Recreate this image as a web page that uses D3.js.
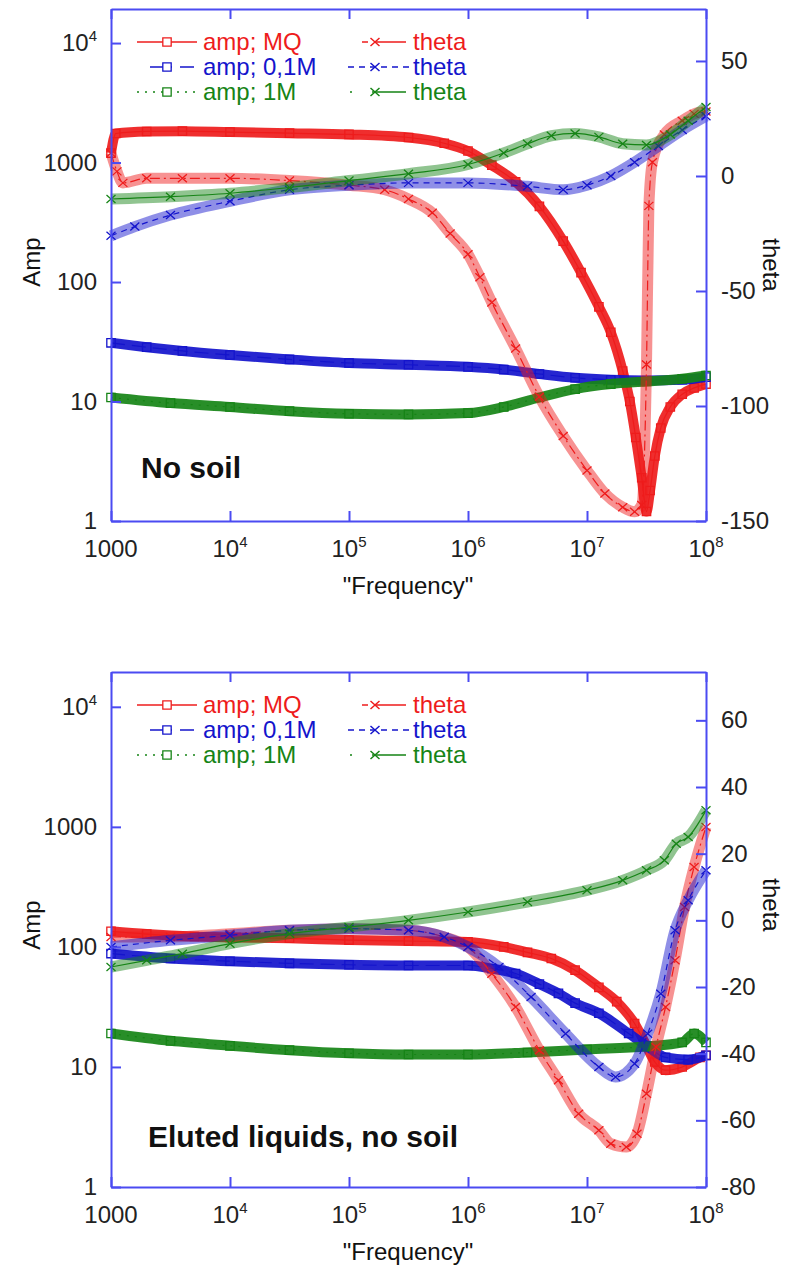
<!DOCTYPE html>
<html>
<head>
<meta charset="utf-8">
<script src="https://d3js.org/d3.v7.min.js"></script>
<style>
body { margin: 0; background: #fff; }
svg { display: block; font-family: "Liberation Sans", Arial, sans-serif; }
</style>
</head>
<body>
<script>
// ---- data: [log10(frequency), value] ----
var noSoilAmpMQ = [[3.0,1200],[3.04,1750],[3.3,1820],[3.6,1830],[4.0,1800],[4.5,1760],[5.0,1720],[5.5,1620],[5.8,1450],[6.0,1250],[6.2,950],[6.4,690],[6.6,430],[6.8,220],[6.95,120],[7.1,62],[7.2,38],[7.3,18],[7.36,10],[7.41,5],[7.46,2.3],[7.5,1.2],[7.53,1.8],[7.57,3.5],[7.62,6],[7.7,9],[7.8,11.5],[7.9,13],[8.0,14]];
var noSoilAmp01M = [[3.0,31],[3.3,28.5],[3.6,26.5],[4.0,24.5],[4.5,22.5],[5.0,21],[5.5,20.3],[6.0,19.5],[6.3,18.5],[6.6,17],[6.9,15.8],[7.2,15.2],[7.5,15],[7.8,15.2],[8.0,16]];
var noSoilAmp1M = [[3.0,10.8],[3.5,9.7],[4.0,9],[4.5,8.3],[5.0,7.9],[5.5,7.8],[6.0,8.0],[6.3,9.0],[6.6,10.8],[6.9,12.7],[7.2,14],[7.5,14.7],[7.8,15.5],[8.0,16.5]];
var noSoilThetaMQ = [[3.0,10],[3.05,2],[3.1,-3],[3.3,-1],[3.6,-1],[4.0,-1],[4.5,-2],[5.0,-4],[5.3,-6],[5.5,-10],[5.7,-16],[5.85,-25],[6.0,-34],[6.1,-44],[6.2,-55],[6.4,-75],[6.6,-96],[6.8,-113],[7.0,-128],[7.15,-138],[7.3,-144],[7.4,-146],[7.46,-143],[7.5,-82],[7.52,-13],[7.55,6],[7.65,18],[7.8,24],[7.9,27],[8.0,28]];
var noSoilTheta01M = [[3.0,-26],[3.2,-22],[3.5,-17],[4.0,-11],[4.5,-6],[5.0,-4],[5.5,-3],[6.0,-3],[6.5,-4.5],[6.8,-6],[7.0,-4],[7.2,0],[7.4,6],[7.6,13],[7.8,20],[8.0,26]];
var noSoilTheta1M = [[3.0,-10],[3.5,-9],[4.0,-7.5],[4.5,-5],[5.0,-2],[5.5,1],[6.0,5],[6.3,10],[6.5,14],[6.7,17.5],[6.9,18.5],[7.1,17],[7.3,14],[7.5,13.5],[7.7,18],[7.85,24],[8.0,30]];

var elutedAmpMQ = [[3.0,135],[3.3,128],[3.7,122],[4.0,120],[4.5,118],[5.0,114],[5.5,112],[6.0,110],[6.3,100],[6.5,90],[6.7,80],[6.9,64],[7.1,46],[7.25,35],[7.4,23],[7.5,15],[7.57,11],[7.66,9.4],[7.8,10],[7.95,12],[8.0,12.5]];
var elutedAmp01M = [[3.0,88],[3.5,80],[4.0,76],[4.5,73],[5.0,71],[5.5,70],[6.0,70],[6.2,66],[6.4,60],[6.6,49],[6.76,41],[6.9,34],[7.1,28],[7.35,19],[7.5,15],[7.66,12],[7.85,11.5],[8.0,12.5]];
var elutedAmp1M = [[3.0,19],[3.5,16.5],[4.0,15],[4.5,13.8],[5.0,13],[5.5,12.7],[6.0,12.7],[6.5,13.2],[7.0,14],[7.5,14.8],[7.8,16],[7.9,19],[8.0,16]];
var elutedThetaMQ = [[3.0,-5],[3.5,-5],[4.0,-4],[4.5,-3],[5.0,-2.5],[5.5,-3],[5.8,-5],[6.0,-8],[6.2,-16],[6.4,-26],[6.6,-39],[6.76,-48],[6.93,-58],[7.1,-63],[7.2,-67],[7.33,-68],[7.42,-64],[7.5,-52],[7.58,-38],[7.66,-26],[7.74,-12],[7.82,4],[7.9,16],[8.0,28]];
var elutedTheta01M = [[3.0,-8],[3.5,-6],[4.0,-4.5],[4.5,-3],[5.0,-2.5],[5.5,-3],[5.8,-5],[6.0,-8],[6.26,-14],[6.53,-23],[6.82,-34],[7.1,-44],[7.24,-47],[7.4,-43],[7.51,-34],[7.62,-22],[7.74,-3],[7.85,6],[8.0,15]];
var elutedTheta1M = [[3.0,-14],[3.3,-12],[3.6,-10],[4.0,-7],[4.5,-4],[5.0,-2],[5.5,0],[6.0,2.5],[6.5,5.5],[7.0,9],[7.3,12],[7.5,15],[7.65,18],[7.75,23],[7.85,25],[8.0,33]];

var freqTicks = [1e3, 1e4, 1e5, 1e6, 1e7, 1e8];
var ampTicks = [1, 10, 100, 1000, 1e4];
var thetaTicksTop = [-150, -100, -50, 0, 50];
var thetaTicksBottom = [-80, -60, -40, -20, 0, 20, 40, 60];
var ampLabels = ["amp; MQ", "amp; 0,1M", "amp; 1M"];
var thetaLabels = ["theta", "theta", "theta"];

var colors = ["#ee1c1c", "#1414cc", "#168416"];
var frameColor = "#4b4bf2";
var ampDash = [null, "14,7", "2,6"];
var thetaDash = ["10,4,2,4", "6,5", null];
// legend samples (gnuplot style key entries)
var ampKey = [[137, 197, null], [150, 194, "22,8,14"], [137, 197, "2,6"]];
var thetaKey = [[362, 406, "6,6,40"], [348, 410, "6,5"], [350, 406, "2,20,40"]];

var svg = d3.select("body").append("svg").attr("width", 799).attr("height", 1267);
var x = d3.scaleLog().domain([1e3, 1e8]).range([111, 706]);
var crossPath = "M-4.5,-4L4.5,4M-4.5,4L4.5,-4";

function powLabel(t, v) {
  var e = Math.round(Math.log10(v));
  if (e <= 3) { t.text(String(v)); return; }
  t.text("10");
  t.append("tspan").attr("font-size", 15).attr("dy", -10).text(e);
}

function panel(p) {
  var yA = d3.scaleLog().domain([1, p.ampMax]).range([p.bottom, p.top]);
  var yT = d3.scaleLinear().domain(p.thetaDomain).range([p.bottom, p.top]);
  var g = svg.append("g");
  var fx = function(d) { return x(Math.pow(10, d[0])); };

  var series = [];
  p.amp.forEach(function(s, i) { series.push({data: s, y: yA, c: colors[i], dash: ampDash[i], kind: "amp"}); });
  p.theta.forEach(function(s, i) { series.push({data: s, y: yT, c: colors[i], dash: thetaDash[i], kind: "theta"}); });

  series.forEach(function(s) {
    var line = d3.line().x(fx).y(function(d) { return s.y(d[1]); }).curve(d3.curveMonotoneX);
    // dense marker band
    g.append("path").attr("d", line(s.data)).attr("fill", "none")
      .attr("stroke", s.c)
      .attr("stroke-width", s.kind === "amp" ? 10 : 11)
      .attr("stroke-opacity", s.kind === "amp" ? 0.92 : 0.48);
    g.append("path").attr("d", line(s.data)).attr("fill", "none")
      .attr("stroke", s.c).attr("stroke-width", 1.2)
      .attr("stroke-dasharray", s.dash);
    var m = g.selectAll(null).data(s.data).enter().append("path")
      .attr("transform", function(d) { return "translate(" + fx(d) + "," + s.y(d[1]) + ")"; })
      .attr("fill", "none").attr("stroke", s.c).attr("stroke-width", 1.3);
    if (s.kind === "amp") m.attr("d", d3.symbol().type(d3.symbolSquare).size(70));
    else m.attr("d", crossPath);
  });

  // frame and ticks
  var ax = svg.append("g").attr("class", "axes");
  ax.append("g").attr("transform", "translate(0," + p.bottom + ")")
    .call(d3.axisBottom(x).tickValues(freqTicks).tickSize(-10).tickSizeOuter(0).tickFormat(""));
  ax.append("g").attr("transform", "translate(0," + p.top + ")")
    .call(d3.axisTop(x).tickValues(freqTicks).tickSize(-10).tickSizeOuter(0).tickFormat(""));
  ax.append("g").attr("transform", "translate(111,0)")
    .call(d3.axisLeft(yA).tickValues(ampTicks).tickSize(-10).tickSizeOuter(0).tickFormat(""));
  ax.append("g").attr("transform", "translate(706,0)")
    .call(d3.axisRight(yT).tickValues(p.thetaTicks).tickSize(-10).tickSizeOuter(0).tickFormat(""));
  ax.selectAll("path, line").attr("stroke", frameColor).attr("stroke-width", 2);

  // tick labels
  svg.selectAll(null).data(freqTicks).enter().append("text")
    .attr("x", function(d) { return x(d); }).attr("y", p.bottom + 36)
    .attr("text-anchor", "middle").attr("font-size", 24).attr("fill", "#222")
    .each(function(d) { powLabel(d3.select(this), d); });
  svg.selectAll(null).data(ampTicks).enter().append("text")
    .attr("x", 97).attr("y", function(d) { return yA(d) + 8; })
    .attr("text-anchor", "end").attr("font-size", 24).attr("fill", "#222")
    .each(function(d) { powLabel(d3.select(this), d); });
  svg.selectAll(null).data(p.thetaTicks).enter().append("text")
    .attr("x", 721).attr("y", function(d) { return yT(d) + 8; })
    .attr("font-size", 24).attr("fill", "#222")
    .text(function(d) { return d; });

  // axis titles
  svg.append("text").attr("transform", "translate(40," + p.ampTitleY + ") rotate(-90)")
    .attr("text-anchor", "middle").attr("font-size", 24).attr("fill", "#111").text("Amp");
  svg.append("text").attr("transform", "translate(763," + p.thetaTitleY + ") rotate(90)")
    .attr("text-anchor", "middle").attr("font-size", 24).attr("fill", "#111").text("theta");
  svg.append("text").attr("x", 408).attr("y", p.bottom + 73)
    .attr("text-anchor", "middle").attr("font-size", 24).attr("fill", "#111").text("\"Frequency\"");
  svg.append("text").attr("x", p.noteX).attr("y", p.noteY)
    .attr("font-size", 30).attr("font-weight", "bold").attr("fill", "#111").text(p.note);

  // legend
  var lg = svg.append("g");
  [0, 1, 2].forEach(function(i) {
    var ly = p.top + 33 + i * 25;
    lg.append("line").attr("x1", ampKey[i][0]).attr("x2", ampKey[i][1]).attr("y1", ly).attr("y2", ly)
      .attr("stroke", colors[i]).attr("stroke-width", 1.5).attr("stroke-dasharray", ampKey[i][2]);
    lg.append("path").attr("transform", "translate(167," + ly + ")")
      .attr("d", d3.symbol().type(d3.symbolSquare).size(70))
      .attr("fill", "#fff").attr("stroke", colors[i]).attr("stroke-width", 1.3);
    lg.append("text").attr("x", 203).attr("y", ly + 8).attr("font-size", 24)
      .attr("fill", colors[i]).text(ampLabels[i]);
    lg.append("line").attr("x1", thetaKey[i][0]).attr("x2", thetaKey[i][1]).attr("y1", ly).attr("y2", ly)
      .attr("stroke", colors[i]).attr("stroke-width", 1.5).attr("stroke-dasharray", thetaKey[i][2]);
    lg.append("path").attr("transform", "translate(375," + ly + ")")
      .attr("d", crossPath).attr("fill", "none").attr("stroke", colors[i]).attr("stroke-width", 1.5);
    lg.append("text").attr("x", 413).attr("y", ly + 8).attr("font-size", 24)
      .attr("fill", colors[i]).text(thetaLabels[i]);
  });
}

panel({
  top: 9, bottom: 521, ampMax: Math.pow(10, 4.285), thetaDomain: [-150, 72.6], thetaTicks: thetaTicksTop,
  amp: [noSoilAmpMQ, noSoilAmp01M, noSoilAmp1M], theta: [noSoilThetaMQ, noSoilTheta01M, noSoilTheta1M],
  note: "No soil", noteX: 141, noteY: 478, ampTitleY: 262, thetaTitleY: 265
});
panel({
  top: 672, bottom: 1187, ampMax: Math.pow(10, 4.29), thetaDomain: [-80, 74.5], thetaTicks: thetaTicksBottom,
  amp: [elutedAmpMQ, elutedAmp01M, elutedAmp1M], theta: [elutedThetaMQ, elutedTheta01M, elutedTheta1M],
  note: "Eluted liquids, no soil", noteX: 148, noteY: 1147, ampTitleY: 925, thetaTitleY: 905
});
</script>
</body>
</html>
